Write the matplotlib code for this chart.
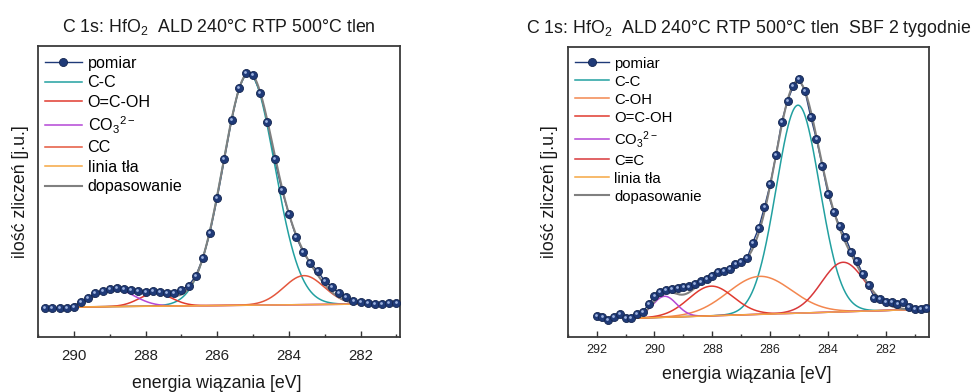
import numpy as np
import matplotlib
matplotlib.use("Agg")
import matplotlib.pyplot as plt
from matplotlib.lines import Line2D
from matplotlib.transforms import ScaledTranslation

plt.rcParams["font.family"] = ["Liberation Sans", "DejaVu Sans"]
plt.rcParams["mathtext.fontset"] = "custom"
plt.rcParams["mathtext.rm"] = "Liberation Sans"
plt.rcParams["mathtext.it"] = "Liberation Sans:italic"
plt.rcParams["mathtext.bf"] = "Liberation Sans:bold"
plt.rcParams["mathtext.default"] = "regular"

# ---------------- measured C 1s spectra (binding energy grid, step 0.2 eV) ----------------
left_energy_start, left_energy_stop = 290.8, 281.0
left_counts = [29.3, 28.7, 28.7, 28.7, 30.3, 35.3, 38.7, 44.3, 46.3, 47.7,
               48.7, 47.7, 47.0, 46.0, 45.3, 46.0, 45.3, 43.7, 44.3, 47.0,
               51.3, 61.0, 78.7, 104.5, 139.0, 177.7, 216.7, 248.7, 263.7, 261.7,
               244.3, 215.3, 178.3, 147.5, 123.0, 100.3, 84.7, 73.7, 66.0, 56.0,
               50.3, 43.7, 40.3, 36.3, 34.7, 33.7, 33.0, 33.0, 33.7, 34.3]

right_energy_start, right_energy_stop = 292.0, 280.6
right_counts = [20.7, 20.0, 16.7, 19.4, 22.7, 18.4, 18.4, 22.4, 25.0, 32.4,
                41.0, 45.0, 46.7, 47.4, 48.4, 49.7, 50.3, 52.5, 55.3, 58.0,
                61.0, 64.5, 66.0, 67.5, 72.5, 74.5, 78.5, 94.2, 108.4, 129.5,
                152.4, 181.7, 215.0, 236.0, 250.7, 257.4, 246.0, 220.0, 197.4, 170.7,
                142.7, 124.4, 110.7, 99.4, 85.0, 75.7, 62.4, 51.7, 39.0, 37.7,
                35.0, 34.4, 32.7, 34.4, 30.0, 27.7, 27.7, 28.4]

# ---------------- fitted components (Gaussian: centre, height, sigma) ----------------
left_labels = ["C-C", "O=C-OH", "CO$_3$$^{2-}$", "CC"]
left_centres = [285.12, 287.72, 288.87, 283.58]
left_heights = [232.0, 13.0, 17.5, 29.0]
left_sigmas = [0.72, 0.45, 0.55, 0.56]
left_fit_range = (290.0, 281.0)
left_background = (30.0, 33.3)

right_labels = ["C-C", "C-OH", "O=C-OH", "CO$_3$$^{2-}$", "C\u2261C"]
right_centres = [285.04, 286.36, 288.04, 289.65, 283.48]
right_heights = [208.0, 38.0, 29.7, 21.0, 49.5]
right_sigmas = [0.75, 1.10, 0.77, 0.42, 0.75]
right_fit_range = (290.8, 280.6)
right_background = (18.4, 27.5)

left_colors = ["#22a0a0", "#e03a2f", "#b447d6", "#e4573d"]
right_colors = ["#22a0a0", "#f3874f", "#e03a2f", "#b447d6", "#d8383a"]
background_color = "#f5a742"
fit_color = "#808080"
data_color = "#1f3a78"

left_title = "C 1s: HfO$_2$  ALD 240\u00b0C RTP 500\u00b0C tlen"
right_title = "C 1s: HfO$_2$  ALD 240\u00b0C RTP 500\u00b0C tlen  SBF 2 tygodnie"
xlabel = "energia wi\u0105zania [eV]"
ylabel = "ilo\u015b\u0107 zlicze\u0144 [j.u.]"

left_ticks = [290, 288, 286, 284, 282]
right_ticks = [292, 290, 288, 286, 284, 282]


def gauss(x, c, h, s):
    return h * np.exp(-0.5 * ((x - c) / s) ** 2)


fig = plt.figure(figsize=(9.73, 3.92), dpi=100)
ax_l = fig.add_axes([38 / 973, 55 / 392, 362 / 973, 291 / 392])
ax_r = fig.add_axes([567.7 / 973, 55.3 / 392, 361.6 / 973, 290 / 392])


def draw_panel(ax, e_start, e_stop, counts, labels, centres, heights, sigmas,
               colors, fit_range, background, xlim, ylim, ticks, title,
               tick_fs, tick_pad, legend_fs, legend_anchor, legend_spacing,
               xlabel_y, ylabel_x):
    n = len(counts)
    energy = np.linspace(e_start, e_stop, n)
    x = np.linspace(fit_range[0], fit_range[1], 600)
    base = background[0] + (background[1] - background[0]) * (x - fit_range[0]) / (fit_range[1] - fit_range[0])

    handles = {}
    total = base.copy()
    for lab, c, h, s, col in zip(labels, centres, heights, sigmas, colors):
        comp = gauss(x, c, h, s)
        total += comp
        handles[lab], = ax.plot(x, base + comp, color=col, lw=1.1, label=lab, zorder=2)
    hb, = ax.plot(x, base, color=background_color, lw=1.1, label="linia t\u0142a", zorder=2)
    hf, = ax.plot(x, total, color=fit_color, lw=1.5, label="dopasowanie", zorder=3)

    # measured points: thin connecting line below the fit, spheres on top
    ax.plot(energy, counts, color=data_color, lw=1.0, zorder=1.5)
    ax.plot(energy, counts, ls="none", marker="o", ms=5.8,
            mfc="#1f3a78", mec="#14264f", mew=0.6, zorder=4)
    shift = ScaledTranslation(-0.9 / 100, 0.9 / 100, fig.dpi_scale_trans)
    ax.plot(energy, counts, ls="none", marker="o", ms=2.0, mfc="#9fb4e0", mec="none",
            transform=ax.transData + shift, zorder=5)
    hd = Line2D([], [], color=data_color, lw=1.0, marker="o", ms=5.8,
                mfc="#1f3a78", mec="#14264f", mew=0.6, label="pomiar")

    order = [hd] + [handles[l] for l in labels] + [hb, hf]
    ax.legend(handles=order, loc="upper left", bbox_to_anchor=legend_anchor,
              frameon=False, fontsize=legend_fs, numpoints=1, handlelength=2.3,
              handletextpad=0.35, labelspacing=legend_spacing, borderpad=0,
              borderaxespad=0)

    ax.set_xlim(*xlim)
    ax.set_ylim(*ylim)
    ax.set_xticks(ticks)
    ax.set_xticks(np.arange(min(ticks) - 1, max(ticks) + 2, 1), minor=True)
    ax.set_yticks([])
    ax.tick_params(axis="x", which="major", direction="in", length=4.5, width=1.0,
                   labelsize=tick_fs, pad=tick_pad, colors="#333333", labelcolor="#222222")
    ax.tick_params(axis="x", which="minor", direction="in", length=2.5, width=1.0,
                   colors="#333333")
    for sp in ax.spines.values():
        sp.set_linewidth(1.3)
        sp.set_color("#3a3a3a")
    ax.set_title(title, fontsize=12.8, pad=10, color="#1a1a1a")
    ax.set_xlabel(xlabel, fontsize=12.8, color="#1a1a1a")
    ax.xaxis.set_label_coords(0.494, xlabel_y)
    ax.set_ylabel(ylabel, fontsize=12.8, color="#1a1a1a")
    ax.yaxis.set_label_coords(ylabel_x, 0.5)


draw_panel(ax_l, left_energy_start, left_energy_stop, left_counts, left_labels,
           left_centres, left_heights, left_sigmas, left_colors, left_fit_range,
           left_background, (290.9, 280.9), (0, 291), left_ticks, left_title,
           10.8, 8.5, 11.6, (0.019, 0.966), 0.28, -0.13, -0.025)
draw_panel(ax_r, right_energy_start, right_energy_stop, right_counts, right_labels,
           right_centres, right_heights, right_sigmas, right_colors, right_fit_range,
           right_background, (292.13, 280.5), (0, 290), right_ticks, right_title,
           9.0, 5.5, 10.7, (0.02, 0.966), 0.27, -0.101, -0.028)

fig.savefig("out.png", dpi=100)
